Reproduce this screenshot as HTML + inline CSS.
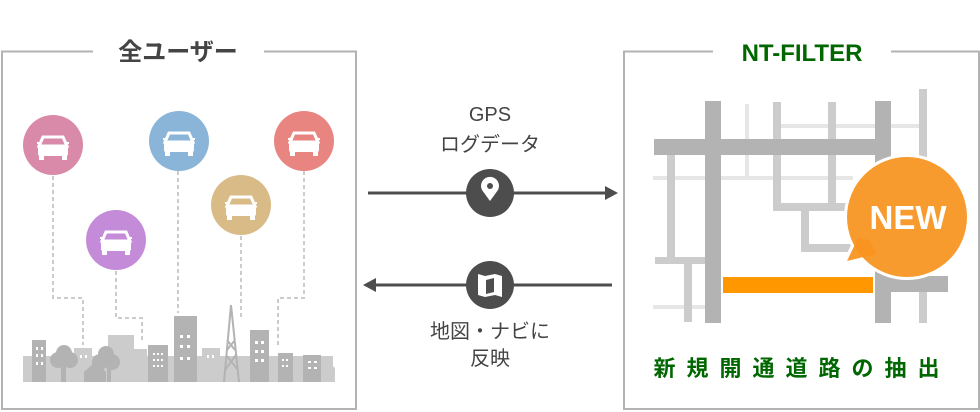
<!DOCTYPE html>
<html><head><meta charset="utf-8"><style>
html,body{margin:0;padding:0;background:#fff;width:980px;height:412px;overflow:hidden}
svg{display:block}
text{font-family:"Liberation Sans","Noto Sans CJK JP",sans-serif}
</style></head><body>
<svg width="980" height="412" viewBox="0 0 980 412" xmlns="http://www.w3.org/2000/svg">
<path d="M93 51.5 H2 V409 H356 V51.5 H264" fill="none" stroke="#b3b3b3" stroke-width="2"/>
<text x="178" y="60" font-size="24" font-weight="bold" fill="#444" text-anchor="middle">全ユーザー</text>
<path d="M713 51.5 H624 V409 H979 V51.5 H891" fill="none" stroke="#b3b3b3" stroke-width="2"/>
<text x="802" y="61" font-size="24" font-weight="bold" fill="#006600" text-anchor="middle">NT-FILTER</text>

<g fill="none" stroke="#ccc" stroke-width="2" stroke-dasharray="4,3">
<path d="M53 176 V298 H83 V345"/>
<path d="M116 271 V318 H142 V343"/>
<path d="M178 171 V313"/>
<path d="M241 236 V320"/>
<path d="M304 171 V298 H278 V345"/>
</g>

<defs>
<g id="car" fill="#fff">
<path d="M-10 -9 H10 L14 0 H-14 Z" fill="none" stroke="#fff" stroke-width="3"/>
<rect x="-16" y="-4" width="4" height="2"/><rect x="12" y="-4" width="4" height="2"/>
<rect x="-15" y="-1" width="30" height="11" rx="2"/>
<rect x="-14" y="8" width="5" height="6"/><rect x="9" y="8" width="5" height="6"/>
</g>
</defs>
<circle cx="53" cy="145" r="30" fill="#d98aa8"/><use href="#car" x="53" y="146"/>
<circle cx="116" cy="240" r="30" fill="#c38bd8"/><use href="#car" x="116" y="241"/>
<circle cx="179" cy="141" r="30" fill="#8ab4d8"/><use href="#car" x="179" y="142"/>
<circle cx="241" cy="205" r="30" fill="#d9bb88"/><use href="#car" x="241" y="206"/>
<circle cx="304" cy="141" r="30" fill="#e88581"/><use href="#car" x="304" y="142"/>

<g>
<rect x="23" y="356" width="310" height="26" fill="#ccc"/>
<path d="M318 368 L327 360 L335 368 V382 H318Z" fill="#ccc"/>
<rect x="108" y="335" width="26" height="47" fill="#ccc"/>
<rect x="134" y="349" width="13" height="33" fill="#ccc"/>
<rect x="74" y="348" width="18" height="34" fill="#ccc"/>
<rect x="202" y="348" width="18" height="34" fill="#ccc"/>
<rect x="32" y="340" width="14" height="42" fill="#b3b3b3"/>
<rect x="148" y="345" width="20" height="37" fill="#b3b3b3"/>
<rect x="174" y="316" width="23" height="66" fill="#b3b3b3"/>
<rect x="250" y="330" width="19" height="52" fill="#b3b3b3"/>
<rect x="278" y="353" width="15" height="29" fill="#b3b3b3"/>
<rect x="303" y="355" width="18" height="27" fill="#b3b3b3"/>
<path d="M231 305 L224 382 M231 305 L239 382 M226 355 L238 370 M236 355 L225 370 M227 340 L235 350 M235 340 L227 350" stroke="#b3b3b3" stroke-width="2" fill="none"/>
<g fill="#b3b3b3">
<circle cx="58" cy="360" r="8"/><circle cx="70" cy="360" r="8"/><circle cx="64" cy="353" r="8"/><rect x="61" y="364" width="5" height="18"/>
<path d="M84 372 L95 362 L106 372 V382 H84Z"/>
<circle cx="100" cy="362" r="8"/><circle cx="112" cy="362" r="8"/><circle cx="106" cy="354" r="8"/><rect x="100" y="366" width="4" height="16"/><rect x="107" y="366" width="4" height="16"/>
</g>
<g fill="#fff">
<rect x="36" y="347" width="2" height="3"/><rect x="41" y="347" width="2" height="3"/>
<rect x="36" y="354" width="2" height="3"/><rect x="41" y="354" width="2" height="3"/>
<rect x="36" y="362" width="2" height="3"/><rect x="41" y="362" width="2" height="3"/>
<rect x="80" y="355" width="2" height="3"/><rect x="85" y="355" width="2" height="3"/>
<rect x="153" y="353" width="2" height="2"/><rect x="157" y="353" width="2" height="2"/><rect x="161" y="353" width="2" height="2"/>
<rect x="153" y="359" width="2" height="2"/><rect x="157" y="359" width="2" height="2"/><rect x="161" y="359" width="2" height="2"/>
<rect x="153" y="365" width="2" height="2"/><rect x="157" y="365" width="2" height="2"/><rect x="161" y="365" width="2" height="2"/>
<rect x="180" y="335" width="3" height="3"/><rect x="187" y="335" width="3" height="3"/>
<rect x="180" y="345" width="3" height="3"/><rect x="187" y="345" width="3" height="3"/>
<rect x="180" y="357" width="3" height="3"/><rect x="187" y="357" width="3" height="3"/>
<rect x="207" y="355" width="2" height="3"/><rect x="212" y="355" width="2" height="3"/>
<rect x="255" y="341" width="3" height="3"/><rect x="261" y="341" width="3" height="3"/>
<rect x="255" y="350" width="3" height="3"/><rect x="261" y="350" width="3" height="3"/>
<rect x="255" y="359" width="3" height="3"/><rect x="261" y="359" width="3" height="3"/>
<rect x="282" y="359" width="2" height="2"/><rect x="286" y="359" width="2" height="2"/>
<rect x="282" y="365" width="2" height="2"/><rect x="286" y="365" width="2" height="2"/>
<rect x="308" y="361" width="3" height="2"/><rect x="314" y="361" width="3" height="2"/>
<rect x="308" y="367" width="3" height="2"/><rect x="314" y="367" width="3" height="2"/>
</g>
</g>

<text x="490" y="121" font-size="20" fill="#444" text-anchor="middle">GPS</text>
<text x="490" y="151" font-size="20" fill="#444" text-anchor="middle">ログデータ</text>
<line x1="368" y1="193" x2="606" y2="193" stroke="#4d4d4d" stroke-width="3"/>
<path d="M605 186 L618 193 L605 200Z" fill="#4d4d4d"/>
<circle cx="490" cy="193" r="24" fill="#4d4d4d"/>
<path d="M490 201 L482 190 A9 9 0 1 1 498 190Z" fill="#fff"/>
<circle cx="490" cy="186" r="3" fill="#4d4d4d"/>

<line x1="374" y1="285" x2="612" y2="285" stroke="#4d4d4d" stroke-width="3"/>
<path d="M376 278 L363 285 L376 292Z" fill="#4d4d4d"/>
<circle cx="490" cy="285" r="24" fill="#4d4d4d"/>
<path d="M478 274 L485 276 L495 274 L502 276 V297 L495 295 L485 297 L478 295Z" fill="#fff"/>
<path d="M486 280 L494 278 V292 L486 294Z" fill="#4d4d4d"/>
<text x="490" y="338" font-size="20" fill="#444" text-anchor="middle">地図・ナビに</text>
<text x="490" y="365" font-size="20" fill="#444" text-anchor="middle">反映</text>

<g fill="#e6e6e6">
<rect x="745" y="104" width="4" height="73"/>
<rect x="653" y="176" width="200" height="4"/>
<rect x="781" y="124" width="138" height="4"/>
<rect x="653" y="305" width="52" height="4"/>
</g>
<g fill="#ccc">
<rect x="919" y="89" width="8" height="234"/>
<rect x="667" y="155" width="8" height="102"/>
<rect x="655" y="257" width="50" height="7"/>
<rect x="684" y="264" width="8" height="58"/>
<rect x="773" y="102" width="8" height="109"/>
<rect x="773" y="203" width="80" height="8"/>
<rect x="801" y="211" width="8" height="41"/>
<rect x="801" y="244" width="142" height="8"/>
<rect x="828" y="102" width="8" height="105"/>
</g>
<g fill="#b3b3b3">
<rect x="705" y="101" width="16" height="222"/>
<rect x="875" y="101" width="16" height="222"/>
<rect x="654" y="139" width="237" height="16"/>
<rect x="875" y="276" width="73" height="16"/>
</g>
<rect x="723" y="277" width="150" height="16" fill="#ff9800"/>
<!-- bubble -->
<g stroke="#fff" stroke-width="6" stroke-linejoin="round" fill="#fff">
<circle cx="907" cy="217" r="60"/>
<path d="M857 240 L846 262 L874 255Z"/>
</g>
<g fill="#f7931e" fill-opacity="0.93">
<circle cx="907" cy="217" r="60"/>
<path d="M858 238 L847 261 L876 254 L870 240Z"/>
</g>
<text x="908" y="229" font-size="33" font-weight="bold" fill="#fff" text-anchor="middle">NEW</text>

<text x="802" y="376" font-size="22" font-weight="bold" fill="#006600" text-anchor="middle" letter-spacing="11">新規開通道路の抽出</text>
</svg>
</body></html>
